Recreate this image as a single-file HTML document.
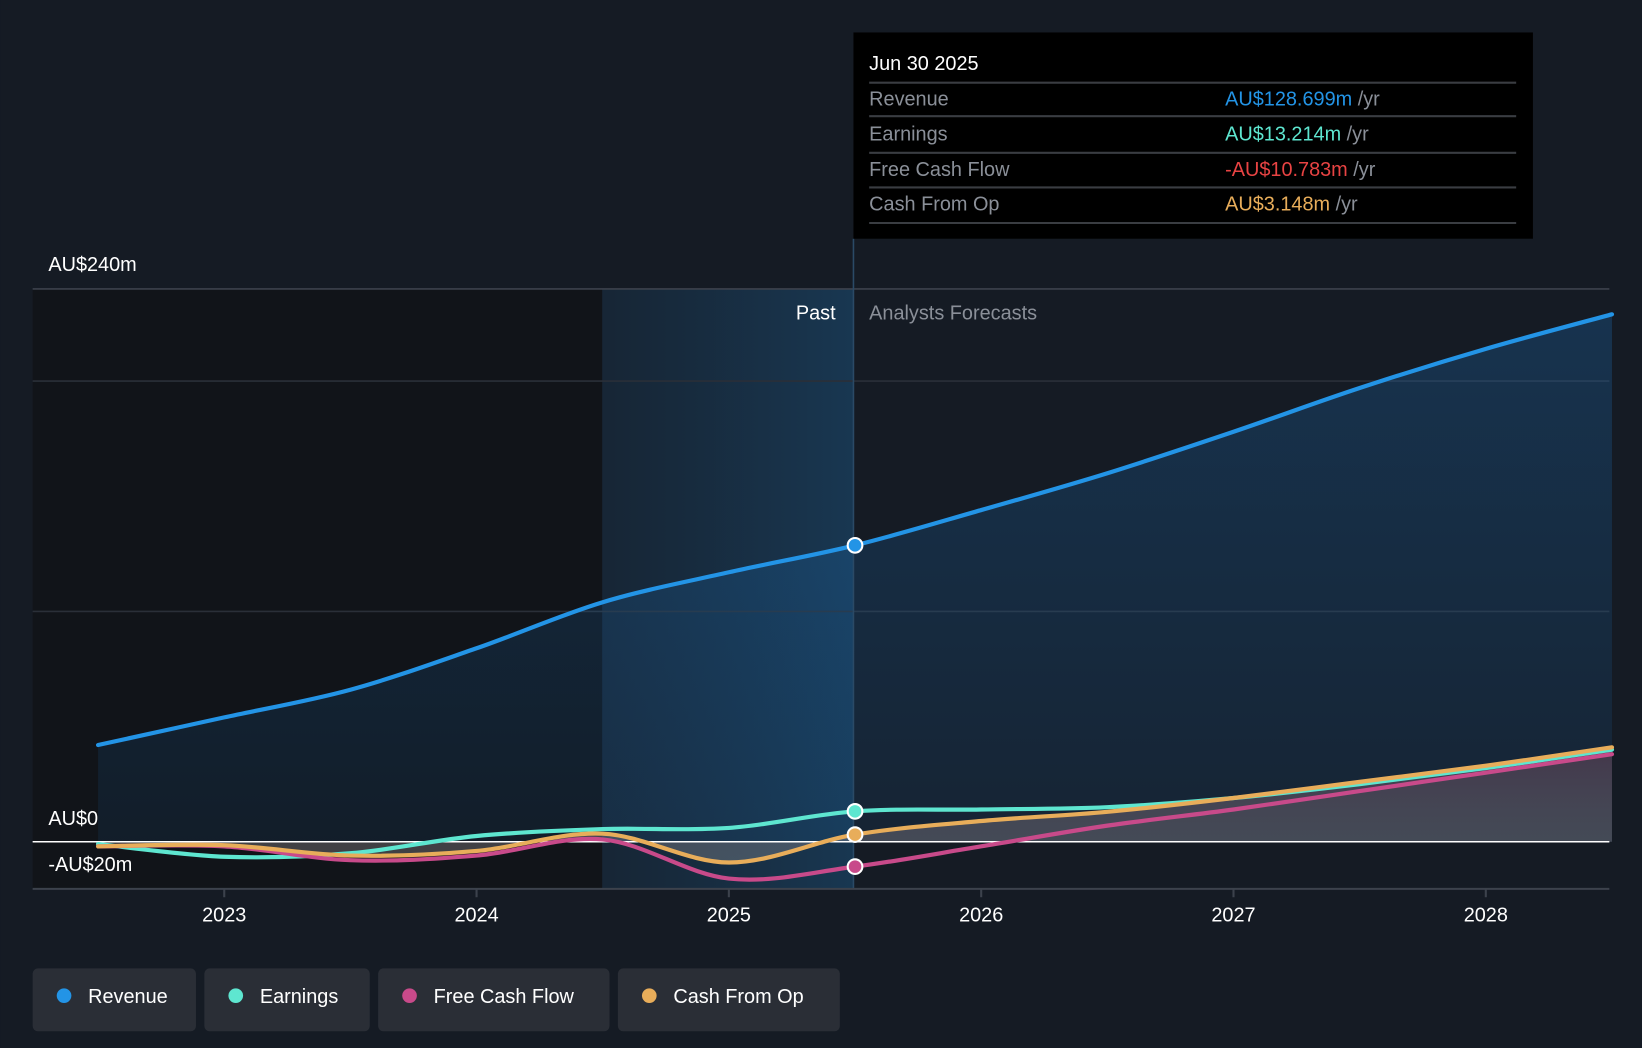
<!DOCTYPE html>
<html><head><meta charset="utf-8">
<style>
html,body{margin:0;padding:0;background:#151b24;width:1642px;height:1048px;overflow:hidden}
svg{display:block;font-family:"Liberation Sans",sans-serif}
</style></head>
<body>
<svg id="chart" width="1642" height="1048" viewBox="0 0 1568 1001" xmlns="http://www.w3.org/2000/svg">
<defs>
<linearGradient id="revFill" x1="0" y1="0" x2="0" y2="1">
<stop offset="0" stop-color="#1e88e5" stop-opacity="0.22"/>
<stop offset="1" stop-color="#1e88e5" stop-opacity="0.08"/>
</linearGradient>
<linearGradient id="band" x1="0" y1="0" x2="1" y2="0">
<stop offset="0" stop-color="#1a3a56" stop-opacity="0.35"/>
<stop offset="1" stop-color="#1a4a70" stop-opacity="0.6"/>
</linearGradient>
<linearGradient id="cfFill" x1="0" y1="0" x2="0" y2="1">
<stop offset="0" stop-color="#7a4a60" stop-opacity="0.45"/>
<stop offset="1" stop-color="#aaaaaa" stop-opacity="0.3"/>
</linearGradient>
</defs>
<rect x="0" y="0" width="1568" height="1001" fill="#151b24"/>
<rect x="31" y="276" width="544" height="573" fill="#111419"/>
<rect x="575" y="276" width="240" height="573" fill="url(#band)"/>
<g id="grid"></g>
<g id="areas"></g>
<g id="lines"></g>
<g id="axis"></g>
<text x="798" y="305" text-anchor="end" fill="#fff" font-size="19">Past</text>
<text x="830" y="305" fill="#8a8f98" font-size="19">Analysts Forecasts</text>
<g>
<rect x="815" y="31" width="649" height="197" fill="#000"/>
<text x="830" y="67" fill="#fff" font-size="19">Jun 30 2025</text>
<g stroke="#3a3d42" stroke-width="2">
<line x1="830" x2="1448" y1="79" y2="79"/><line x1="830" x2="1448" y1="111" y2="111"/>
<line x1="830" x2="1448" y1="146" y2="146"/><line x1="830" x2="1448" y1="179" y2="179"/>
<line x1="830" x2="1448" y1="213" y2="213"/></g>
<g font-size="19" fill="#8a8f98">
<text x="830" y="101">Revenue</text><text x="830" y="134">Earnings</text>
<text x="830" y="168">Free Cash Flow</text><text x="830" y="201">Cash From Op</text></g>
<g font-size="19">
<text x="1170" y="101"><tspan fill="#2394e6">AU$128.699m</tspan><tspan fill="#8a8f98"> /yr</tspan></text>
<text x="1170" y="134"><tspan fill="#5ee6d0">AU$13.214m</tspan><tspan fill="#8a8f98"> /yr</tspan></text>
<text x="1170" y="168"><tspan fill="#e84343">-AU$10.783m</tspan><tspan fill="#8a8f98"> /yr</tspan></text>
<text x="1170" y="201"><tspan fill="#e8ad5a">AU$3.148m</tspan><tspan fill="#8a8f98"> /yr</tspan></text></g>
</g>
<g id="legend"></g>
</svg>
<script>
const years = [2022.5,2023,2023.5,2024,2024.5,2025,2025.5,2026,2026.5,2027,2027.5,2028,2028.5];
const revenue = [42,54,66,84,104,117,128.7,144,160,178,197,214,229];
const earnings = [-1,-6.5,-5,2.5,5.5,6,13.2,14,15,19,25,32,40];
const fcf = [-2,-2,-8,-6,1,-16,-10.8,-2,7,14,22,30,38];
const cfo = [-2,-1.5,-6,-4,3.5,-9,3.1,9,13,19,26,33,41];
const yTicks = [-20,0,100,200,240];
const xTicks = [2023,2024,2025,2026,2027,2028];
const NS="http://www.w3.org/2000/svg";
const X=t=>214+(t-2023)*241, Y=v=>804-v*2.2;
function mk(tag,attrs,parent){const e=document.createElementNS(NS,tag);for(const k in attrs)e.setAttribute(k,attrs[k]);parent.appendChild(e);return e;}
function smooth(xs,vs){const p=xs.map((x,i)=>[X(x),Y(vs[i])]);let d=`M${p[0][0]},${p[0][1]}`;
for(let i=0;i<p.length-1;i++){const p0=p[i-1]||p[i],p1=p[i],p2=p[i+1],p3=p[i+2]||p2;
d+=` C${p1[0]+(p2[0]-p0[0])/6},${p1[1]+(p2[1]-p0[1])/6} ${p2[0]-(p3[0]-p1[0])/6},${p2[1]-(p3[1]-p1[1])/6} ${p2[0]},${p2[1]}`;}return d;}
const grid=document.getElementById('grid'),axis=document.getElementById('axis'),areas=document.getElementById('areas'),lines=document.getElementById('lines');
yTicks.forEach(v=>{if(v===0||v===-20)return;const l=mk('line',{x1:31,x2:1537,y1:Y(v),y2:Y(v),stroke:v===240?'#3c424c':'#2a2f38','stroke-width':1.5},grid);
});
const lab=(t,y,n)=>{const e=mk('text',{x:46,y:y,fill:'#fff','font-size':19},axis);e.textContent=t;};
lab('AU$240m',Y(240)-17,'y-label-240m');lab('AU$0',Y(0)-16,'y-label-0');lab('-AU$20m',Y(-20)-16,'y-label-neg20m');
const bl=mk('line',{x1:31,x2:1537,y1:849,y2:849,stroke:'#3c424c','stroke-width':2},axis);
xTicks.forEach(t=>{mk('line',{x1:X(t),x2:X(t),y1:849,y2:857,stroke:'#3c424c','stroke-width':2},axis);
const e=mk('text',{x:X(t),y:880,fill:'#fff','font-size':19,'text-anchor':'middle'},axis);e.textContent=t;});
const revD=smooth(years,revenue);
const ra=mk('path',{d:revD+` L${X(2028.5)},${Y(0)} L${X(2022.5)},${Y(0)} Z`,fill:'url(#revFill)'},areas);
const fa=mk('path',{d:smooth(years,cfo)+` L${X(2028.5)},${Y(0)} L${X(2022.5)},${Y(0)} Z`,fill:'url(#cfFill)'},areas);
const vl=mk('line',{x1:815,x2:815,y1:228,y2:849,stroke:'#2a4a66','stroke-width':1.5},areas);
const zl=mk('line',{x1:31,x2:1537,y1:Y(0),y2:Y(0),stroke:'#fff','stroke-width':1.5},areas);
const series=[['revenue',revenue,'#2394e6'],['earnings',earnings,'#5ee6d0'],['free-cash-flow',fcf,'#c84a8a'],['cash-from-op',cfo,'#e8ad5a']];
[series[1],series[2],series[3],series[0]].forEach(s=>{const p=mk('path',{d:smooth(years,s[1]),fill:'none',stroke:s[2],'stroke-width':4,'stroke-linecap':'round'},lines);

const c=mk('circle',{cx:X(2025.5),cy:Y(s[1][6]),r:7,fill:s[2],stroke:'#fff','stroke-width':2},lines);});
const lg=document.getElementById('legend');
const legItems=[['Revenue','#2394e6',31,156],['Earnings','#5ee6d0',195,158],['Free Cash Flow','#c84a8a',361,221],['Cash From Op','#e8ad5a',590,212]];
legItems.forEach(it=>{const g=mk('g',{},lg);
mk('rect',{x:it[2],y:925,width:it[3],height:60,rx:5,fill:'#2a2e36'},g);
mk('circle',{cx:it[2]+30,cy:951,r:7,fill:it[1]},g);
const t=mk('text',{x:it[2]+53,y:958,fill:'#fff','font-size':19},g);t.textContent=it[0];});
</script>
</body></html>
